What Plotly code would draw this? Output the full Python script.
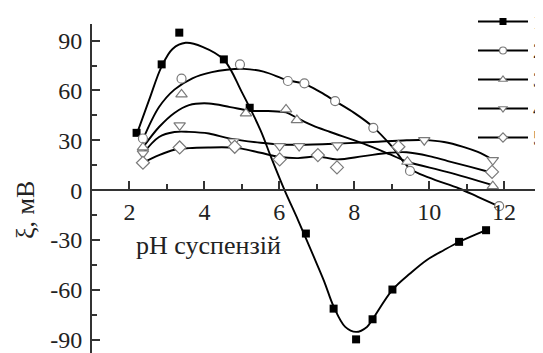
import plotly.graph_objects as go

# ---- measured points (pH, zeta potential in mV) ----
ph1 = [2.19, 2.86, 3.33, 4.52, 5.21, 6.71, 7.45, 8.05, 8.49, 9.02, 10.8, 11.52]
z1 = [34.5, 75.7, 94.8, 78.7, 49.6, -26.1, -71.3, -89.8, -77.7, -59.8, -31.1, -24.1]

ph2 = [2.36, 3.39, 4.95, 6.23, 6.67, 7.49, 8.51, 9.49, 11.87]
z2 = [31.1, 67.1, 75.7, 65.7, 64.3, 53.6, 37.5, 11.6, -9.6]

ph3 = [2.36, 3.39, 5.11, 6.18, 6.47, 9.42, 11.7]
z3 = [25.7, 57.6, 46.2, 48.6, 42.2, 17.1, 2.4]

ph4 = [2.36, 3.34, 4.78, 6.01, 6.53, 7.55, 9.87, 11.7]
z4 = [22.1, 39.0, 29.3, 26.5, 26.5, 26.9, 30.1, 18.1]

ph5 = [2.36, 3.34, 4.81, 6.01, 7.03, 7.54, 9.18, 11.68]
z5 = [16.5, 25.7, 26.1, 18.5, 21.1, 13.7, 26.1, 11.0]

# ---- fitted curves ----
c1x = [2.2, 2.52, 2.86, 3.15, 3.5, 3.95, 4.52, 5.0, 5.5, 5.76, 6.14, 6.5, 6.9, 7.2, 7.45,
       7.76, 8.05, 8.34, 8.49, 9.02, 9.5, 9.94, 10.4, 10.8, 11.52]
c1y = [34, 54, 74.5, 85, 88.7, 86.3, 78.5, 59, 36, 21, 0, -18, -39, -55, -70,
       -82.3, -85.3, -82.3, -77.7, -60, -50, -42, -36, -31.2, -24.1]

c2x = [2.36, 2.79, 3.2, 3.68, 4.2, 4.6, 5.05, 5.58, 6.2, 6.67, 7.1, 7.49, 8.0, 8.5,
       9.0, 9.49, 10.0, 10.8, 11.3, 11.85]
c2y = [30.5, 50, 60.5, 67.3, 71, 72.5, 73, 71.3, 66.3, 64, 59, 53.6, 46.5, 38.1,
       26.5, 13, 7.5, 1, -4, -9.6]

c3x = [2.36, 2.79, 3.2, 3.59, 4.12, 4.69, 5.23, 5.7, 6.18, 6.47, 6.9, 7.36, 8.25,
       8.96, 9.42, 10.47, 11.7]
c3y = [25.7, 38, 46.5, 51.2, 52.2, 50, 47.8, 47.6, 46.8, 43.5, 38.8, 35, 28,
       21.5, 17.1, 11, 3]

c4x = [2.36, 2.79, 3.2, 3.59, 4.12, 4.69, 5.5, 6.01, 6.53, 7.55, 8.5, 9.4, 9.87,
       10.4, 10.91, 11.3, 11.7]
c4y = [22, 32, 35, 35.1, 34.1, 31, 28.5, 27.5, 27.3, 28, 29, 30, 30.1,
       29, 26.1, 23, 18.3]

c5x = [2.36, 2.79, 3.2, 3.59, 4.12, 4.69, 5.0, 5.5, 6.01, 6.5, 7.03, 7.54, 8.25,
       8.96, 9.4, 10.0, 10.5, 11.1, 11.68]
c5y = [16.5, 21.1, 24.3, 25.3, 25.7, 25.7, 25, 22.5, 20, 19.3, 20.3, 18.5, 20.5,
       22.5, 22.8, 20.5, 17.5, 14, 10.5]

names = ["1", "2", "3", "4", "5"]
x_ticks = [2, 4, 6, 8, 10, 12]
x_labels = ["2", "4", "6", "8", "10", "12"]
y_ticks = [-90, -60, -30, 0, 30, 60, 90]
y_labels = ["-90", "-60", "-30", "0", "30", "60", "90"]

FONT = "Liberation Serif, Times New Roman, serif"
AX = "#333333"
MK = "#7a7a7a"
TXT = "#222222"

# the page body adds an 8px offset, so the figure is 8px smaller than the window
W, H = 535, 345
ML, MT = 84, 16
PW, PH = W - ML, H - MT  # plot area 451 x 329


def px(xw):  # window x pixel -> paper fraction
    return (xw - 8 - ML) / PW


def py(yw):  # window y pixel -> paper fraction
    return (H - (yw - 8)) / PH


markers = [
    (ph1, z1, dict(symbol="square", size=8, color="black", line=dict(width=0))),
    (ph2, z2, dict(symbol="circle", size=9, color="white", line=dict(width=1.2, color=MK))),
    (ph3, z3, dict(symbol="triangle-up", size=10, color="white", line=dict(width=1.2, color=MK))),
    (ph4, z4, dict(symbol="triangle-down", size=10, color="white", line=dict(width=1.2, color=MK))),
    (ph5, z5, dict(symbol="diamond", size=10, color="white", line=dict(width=1.2, color=MK))),
]
curves = [(c1x, c1y), (c2x, c2y), (c3x, c3y), (c4x, c4y), (c5x, c5y)]

fig = go.Figure()
for cx, cy in curves:
    fig.add_trace(go.Scatter(x=cx, y=cy, mode="lines", showlegend=False, hoverinfo="skip",
                             line=dict(color="black", width=1.9, shape="spline", smoothing=1.0)))
for (mx, my, mk), nm in zip(markers, names):
    fig.add_trace(go.Scatter(x=mx, y=my, mode="markers", marker=mk, showlegend=False))
# legend-only entries
for (mx, my, mk), nm in zip(markers, names):
    lm = dict(mk)
    lm["size"] = 7
    fig.add_trace(go.Scatter(x=[None], y=[None], mode="lines+markers", name=nm,
                             line=dict(color="black", width=1.8), marker=lm))

fig.update_layout(
    width=W, height=H,
    margin=dict(l=ML, r=0, t=MT, b=0, autoexpand=False),
    paper_bgcolor="white", plot_bgcolor="white",
    font=dict(family=FONT, size=24, color=TXT),
    showlegend=True,
    legend=dict(x=px(473), y=py(2), xanchor="left", yanchor="top",
                bgcolor="rgba(0,0,0,0)", borderwidth=0, itemwidth=50,
                font=dict(family=FONT, size=20, color=TXT), tracegroupgap=0),
    xaxis=dict(range=[1, 13.04], anchor="free", position=98 / 198, showline=True,
               linecolor=AX, linewidth=2, ticks="inside", ticklen=8, tickwidth=2,
               tickcolor=AX, tickvals=x_ticks, ticktext=x_labels, showgrid=False,
               zeroline=False, ticklabeloverflow="allow",
               tickfont=dict(family=FONT, size=24, color=TXT),
               minor=dict(dtick=1, tick0=1, ticks="inside", ticklen=5, tickwidth=2,
                          tickcolor=AX, showgrid=False)),
    yaxis=dict(range=[-98, 100], showline=True, linecolor=AX, linewidth=2,
               ticks="inside", ticklen=8, tickwidth=2, tickcolor=AX, tickvals=y_ticks,
               ticktext=y_labels, showgrid=False, zeroline=False,
               ticklabeloverflow="allow", ticklabelstandoff=3,
               tickfont=dict(family=FONT, size=24, color=TXT),
               minor=dict(dtick=15, tick0=15, ticks="inside", ticklen=5, tickwidth=2,
                          tickcolor=AX, showgrid=False)),
    annotations=[
        dict(text="pH суспензій", xref="paper", yref="paper", x=px(208), y=py(245),
             showarrow=False, xanchor="center", yanchor="middle",
             font=dict(family=FONT, size=26, color=TXT)),
        dict(text="ξ, мВ", xref="paper", yref="paper", x=px(25), y=py(210),
             showarrow=False, textangle=-90, xanchor="center", yanchor="middle",
             font=dict(family=FONT, size=26, color=TXT)),
    ],
)

fig.write_html("out.html")
